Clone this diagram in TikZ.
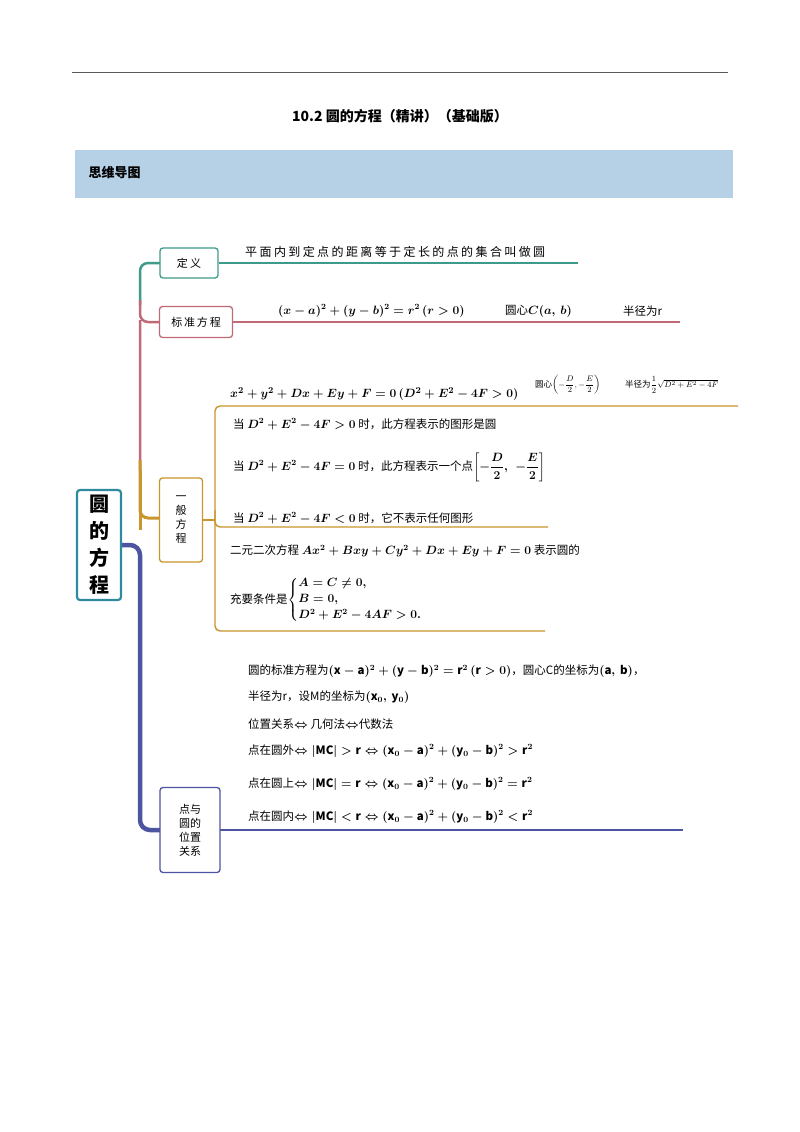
\documentclass[tikz,border=0pt]{standalone}
\usepackage{fontspec}
\usepackage{amsmath}
\setmainfont{Noto Sans CJK SC}
\usetikzlibrary{calc}
\definecolor{cteal}{HTML}{3E9A8A}
\definecolor{cpink}{HTML}{C06A78}
\definecolor{corange}{HTML}{C9962E}
\definecolor{cblue}{HTML}{4E55A0}
\definecolor{croot}{HTML}{2F8A9E}
\definecolor{cband}{HTML}{B6D0E6}
\begin{document}
\begin{tikzpicture}[x=1pt,y=-1pt,
  box/.style={draw,rounded corners=3pt,line width=1.3pt,fill=white,align=center,inner sep=0pt,font=\fontsize{11}{14}\selectfont},
  txt/.style={anchor=west,inner sep=0pt,font=\fontsize{11.5}{13}\selectfont\boldmath},
  br/.style={line width=1.4pt}]
\useasboundingbox (0,0) rectangle (800,1132);
\fill[white] (0,0) rectangle (800,1132);
\coordinate (tl) at (72,72); \coordinate (tr) at (728,72);
\draw[gray!70!black,line width=0.8pt] (tl) -- (tr);
\node[font=\fontsize{14}{16}\selectfont\bfseries] (title) at (400,116) {10.2\ 圆的方程（精讲）（基础版）};
\fill[cband] (75,150) rectangle (733,198);
\node[anchor=west,font=\fontsize{13}{15}\selectfont\bfseries] (band) at (85,173) {思维导图};
% trunk
\draw[cteal,line width=2.5pt,rounded corners=8pt] (160,263) -- (140,263) -- (140,305);
\draw[cpink,line width=2.5pt,rounded corners=8pt] (160,322) -- (140,322) -- (140,300) (140,320) -- (140,470);
\draw[corange,line width=3pt,rounded corners=8pt] (160,518) -- (140,518) -- (140,460) ;
\draw[corange,line width=3pt] (140,470) -- (140,530);
\draw[cblue,line width=4.5pt,rounded corners=10pt] (121,545) -- (140,545) -- (140,830) -- (160,830);
\draw[cblue,line width=1.4pt] (160,830) -- (683,830);
% root
\node[box,draw=croot,line width=2.2pt,minimum width=44pt,minimum height=110pt,font=\fontsize{20}{27}\selectfont\bfseries] (root) at (99,545) {圆\\的\\方\\程};
% 定义
\node[box,draw=cteal,minimum width=58pt,minimum height=30pt] (dy) at (189,263) {定\ 义};
\coordinate (dyE) at (578,263);
\draw[cteal,br] (dy.east) -- (dyE);
\node[txt,font=\fontsize{12}{13}\selectfont\addfontfeature{LetterSpace=20}] (dyt) at (245,252) {平面内到定点的距离等于定长的点的集合叫做圆};
% 标准方程
\node[box,draw=cpink,minimum width=73pt,minimum height=31pt] (bz) at (196,322) {标\,准\,方\,程};
\coordinate (bzE) at (680,322);
\draw[cpink,br] (bz.east) -- (bzE);
\node[txt] (bzt1) at (278,311) {$(x-a)^2+(y-b)^2=r^2\,(r>0)$};
\node[txt] (bzt2) at (505,311) {圆心$C(a,\ b)$};
\node[txt] (bzt3) at (623,311) {半径为r};
% 一般方程
\node[box,draw=corange,minimum width=43pt,minimum height=84pt] (yb) at (181,520) {一\\般\\方\\程};
\coordinate (ybJ) at (215,520);
\draw[corange,br] (yb.east) -- (ybJ);
\coordinate (g1) at (738,406); \coordinate (g2) at (548,527); \coordinate (g3) at (545,631);
\draw[corange,br,rounded corners=5pt] (g1) -- (215,406) -- (215,631) -- (g3);
\draw[corange,br,rounded corners=5pt] (215,510) -- (215,527) -- (g2);
\node[txt,font=\fontsize{12.5}{13}\selectfont\boldmath] (ybt0) at (230,394) {$x^2+y^2+Dx+Ey+F=0\,(D^2+E^2-4F>0)$};
\node[txt,font=\fontsize{8.5}{9}\selectfont] (ybt0b) at (535,385) {圆心$\left(-\dfrac{D}{2},-\dfrac{E}{2}\right)$};
\node[txt,font=\fontsize{8.5}{9}\selectfont] (ybt0c) at (625,385) {半径为$\dfrac12\sqrt{D^2+E^2-4F}$};
\node[txt] (ybt1) at (233,424) {当 $D^2+E^2-4F>0$ 时，此方程表示的图形是圆};
\node[txt] (ybt2) at (233,467) {当 $D^2+E^2-4F=0$ 时，此方程表示一个点$\left[-\dfrac{D}{2},\ \ -\dfrac{E}{2}\right]$};
\node[txt] (ybt3) at (233,518) {当 $D^2+E^2-4F<0$ 时，它不表示任何图形};
\node[txt] (ybt4) at (230,551) {二元二次方程 $Ax^2+Bxy+Cy^2+Dx+Ey+F=0$ 表示圆的};
\node[txt] (ybt5) at (230,600) {充要条件是$\left\{\begin{array}{@{}l@{}}A=C\neq0,\\[3pt] B=0,\\[3pt] D^2+E^2-4AF>0.\end{array}\right.$};
% 点与圆的位置关系
\node[box,draw=cblue,minimum width=60pt,minimum height=85pt] (dw) at (190,830) {点与\\圆的\\位置\\关系};
\node[txt] (w1) at (248,671) {圆的标准方程为$(\mathrm{x}-\mathrm{a})^2+(\mathrm{y}-\mathrm{b})^2=\mathrm{r}^2\,(\mathrm{r}>0)$，圆心C的坐标为$(\mathrm{a},\ \mathrm{b})$，};
\node[txt] (w2) at (248,697) {半径为r，设M的坐标为$(\mathrm{x}_0,\ \mathrm{y}_0)$};
\node[txt] (w3) at (248,724) {位置关系$\Leftrightarrow$ 几何法$\Leftrightarrow$代数法};
\node[txt] (w4) at (248,751) {点在圆外$\Leftrightarrow|\mathrm{MC}|>\mathrm{r}\Leftrightarrow(\mathrm{x}_0-\mathrm{a})^2+(\mathrm{y}_0-\mathrm{b})^2>\mathrm{r}^2$};
\node[txt] (w5) at (248,784) {点在圆上$\Leftrightarrow|\mathrm{MC}|=\mathrm{r}\Leftrightarrow(\mathrm{x}_0-\mathrm{a})^2+(\mathrm{y}_0-\mathrm{b})^2=\mathrm{r}^2$};
\node[txt] (w6) at (248,817) {点在圆内$\Leftrightarrow|\mathrm{MC}|<\mathrm{r}\Leftrightarrow(\mathrm{x}_0-\mathrm{a})^2+(\mathrm{y}_0-\mathrm{b})^2<\mathrm{r}^2$};
\end{tikzpicture}
\end{document}
